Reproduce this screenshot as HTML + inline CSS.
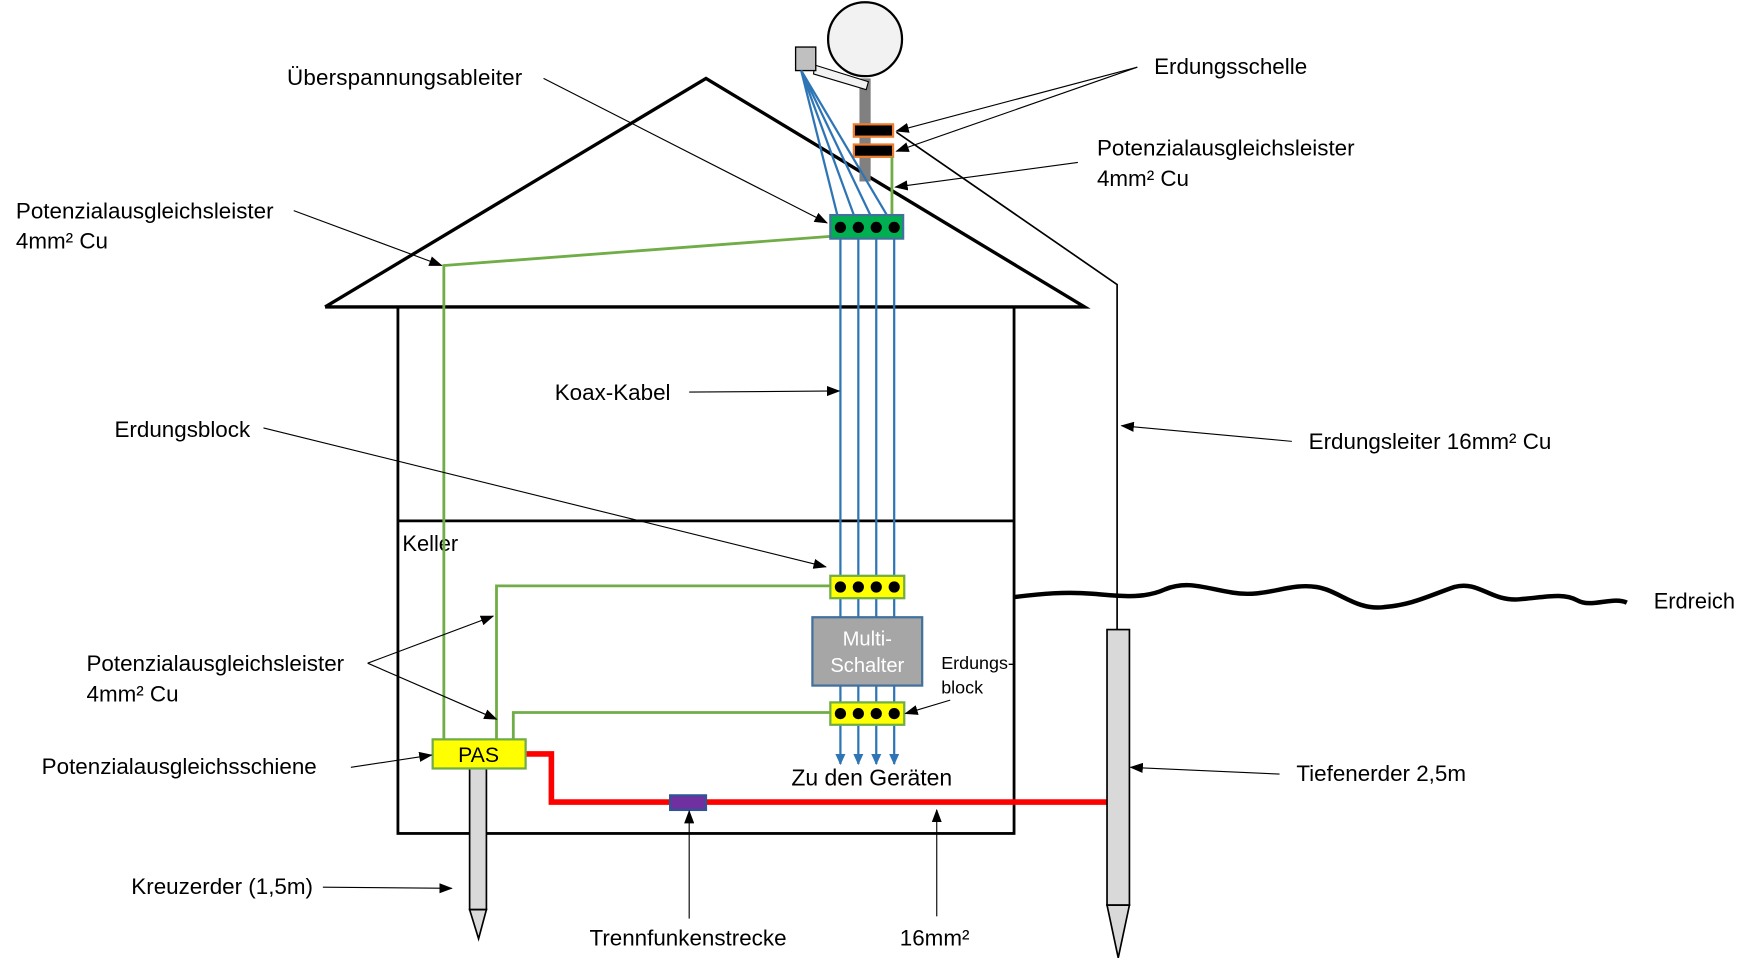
<!DOCTYPE html>
<html><head><meta charset="utf-8"><style>
html,body{margin:0;padding:0;background:#fff;}
svg{display:block;}
text{font-family:"Liberation Sans",sans-serif;fill:#000;}
</style></head><body>
<svg width="1757" height="969" viewBox="0 0 1568 865" xmlns="http://www.w3.org/2000/svg">
<defs>
<marker id="a" markerWidth="12" markerHeight="9" refX="11" refY="4.5" orient="auto" markerUnits="userSpaceOnUse"><path d="M0,0 L12,4.5 L0,9 Z" fill="#000"/></marker>
<marker id="b" markerWidth="10" markerHeight="9" refX="9" refY="4.5" orient="auto" markerUnits="userSpaceOnUse"><path d="M0,0 L10,4.5 L0,9 Z" fill="#2e75b6"/></marker>
</defs>
<polyline points="290,274 630,70 968,274 290,274" fill="none" stroke="#000" stroke-width="3"/>
<rect x="355" y="274" width="550" height="470" fill="none" stroke="#000" stroke-width="2.5"/>
<line x1="355" y1="465" x2="905" y2="465" stroke="#000" stroke-width="2.5"/>
<text x="359" y="492" font-size="19.5">Keller</text>
<rect x="767" y="70" width="10" height="92" fill="#808080"/>
<circle cx="772" cy="35" r="33" fill="#f2f2f2" stroke="#000" stroke-width="2"/>
<polygon points="727,58 775,73 773,80 726,66" fill="#f2f2f2" stroke="#000" stroke-width="1"/>
<rect x="710" y="42" width="18" height="21" fill="#c0c0c0" stroke="#000" stroke-width="1.2"/>
<rect x="762" y="111" width="35" height="11" fill="#000" stroke="#ed7d31" stroke-width="2"/>
<rect x="762" y="129" width="35" height="11" fill="#000" stroke="#ed7d31" stroke-width="2"/>
<g stroke="#2e75b6" stroke-width="2" fill="none">
<line x1="715" y1="63" x2="750" y2="203"/>
<line x1="715" y1="63" x2="766" y2="203"/>
<line x1="715" y1="63" x2="782" y2="203"/>
<line x1="715" y1="63" x2="798" y2="203"/>
<line x1="750" y1="203" x2="750" y2="682" marker-end="url(#b)"/>
<line x1="766" y1="203" x2="766" y2="682" marker-end="url(#b)"/>
<line x1="782" y1="203" x2="782" y2="682" marker-end="url(#b)"/>
<line x1="798" y1="203" x2="798" y2="682" marker-end="url(#b)"/>
</g>
<g stroke="#70ad47" stroke-width="2.5" fill="none">
<line x1="796" y1="140" x2="796" y2="192"/>
<polyline points="741,211 396,237 396,660"/>
<polyline points="741,523 443,523 443,660"/>
<polyline points="741,636 458,636 458,660"/>
</g>
<rect x="741" y="192" width="65" height="21" fill="#00b050" stroke="#41719c" stroke-width="2"/>
<rect x="741" y="514" width="66" height="20" fill="#ffff00" stroke="#70ad47" stroke-width="2"/>
<rect x="741" y="627" width="66" height="20" fill="#ffff00" stroke="#70ad47" stroke-width="2"/>
<g fill="#000">
<circle cx="750" cy="203" r="5"/><circle cx="766" cy="203" r="5"/><circle cx="782" cy="203" r="5"/><circle cx="798" cy="203" r="5"/>
<circle cx="750" cy="524" r="5"/><circle cx="766" cy="524" r="5"/><circle cx="782" cy="524" r="5"/><circle cx="798" cy="524" r="5"/>
<circle cx="750" cy="637" r="5"/><circle cx="766" cy="637" r="5"/><circle cx="782" cy="637" r="5"/><circle cx="798" cy="637" r="5"/>
</g>
<rect x="725" y="551" width="98" height="61" fill="#a6a6a6" stroke="#41719c" stroke-width="2"/>
<text x="774" y="576" font-size="18" text-anchor="middle" style="fill:#fff">Multi-</text>
<text x="774" y="600" font-size="18" text-anchor="middle" style="fill:#fff">Schalter</text>
<text x="778" y="701" font-size="20.5" text-anchor="middle">Zu den Geräten</text>
<polyline points="469,673 492,673 492,716 988,716" fill="none" stroke="#ff0000" stroke-width="5"/>
<rect x="598" y="710" width="32" height="13" fill="#7030a0" stroke="#2f5597" stroke-width="2"/>
<rect x="419" y="686" width="15" height="126" fill="#d9d9d9" stroke="#000" stroke-width="1.5"/>
<polygon points="419,812 434,812 427,838" fill="#d9d9d9" stroke="#000" stroke-width="1.5"/>
<rect x="386" y="660" width="83" height="26" fill="#ffff00" stroke="#70ad47" stroke-width="2"/>
<text x="427" y="680" font-size="19" text-anchor="middle">PAS</text>
<polyline points="800,118 997,254 997,562" fill="none" stroke="#000" stroke-width="1.5"/>
<path d="M905,533 C930,530 950,528 975,530 C1000,532 1020,535 1040,526 C1060,518 1075,525 1100,529 C1130,534 1150,520 1175,524 C1195,527 1210,545 1235,542 C1260,540 1275,532 1298,524 C1320,518 1330,537 1356,535 C1380,533 1395,529 1408,536 C1420,543 1440,532 1452,538" fill="none" stroke="#000" stroke-width="4"/>
<rect x="988" y="562" width="20" height="246" fill="#d9d9d9" stroke="#000" stroke-width="1.5"/>
<polygon points="988,808 1008,808 998,855" fill="#d9d9d9" stroke="#000" stroke-width="1.5"/>
<text x="1476" y="543" font-size="19.5">Erdreich</text>
<g stroke="#000" stroke-width="1" fill="none">
<line x1="485" y1="70" x2="738" y2="199" marker-end="url(#a)"/>
<line x1="1015" y1="60" x2="800" y2="117" marker-end="url(#a)"/>
<line x1="1015" y1="60" x2="800" y2="135" marker-end="url(#a)"/>
<line x1="962" y1="145" x2="799" y2="167" marker-end="url(#a)"/>
<line x1="262" y1="188" x2="394" y2="237" marker-end="url(#a)"/>
<line x1="615" y1="350" x2="749" y2="349" marker-end="url(#a)"/>
<line x1="1153" y1="394" x2="1001" y2="380" marker-end="url(#a)"/>
<line x1="235" y1="382" x2="737" y2="506" marker-end="url(#a)"/>
<line x1="328" y1="592" x2="440" y2="550" marker-end="url(#a)"/>
<line x1="328" y1="592" x2="443" y2="642" marker-end="url(#a)"/>
<line x1="848" y1="625" x2="808" y2="637" marker-end="url(#a)"/>
<line x1="313" y1="685" x2="385" y2="674" marker-end="url(#a)"/>
<line x1="1142" y1="691" x2="1009" y2="685" marker-end="url(#a)"/>
<line x1="288" y1="792" x2="403" y2="793" marker-end="url(#a)"/>
<line x1="615" y1="820" x2="615" y2="724" marker-end="url(#a)"/>
<line x1="836" y1="818" x2="836" y2="723" marker-end="url(#a)"/>
</g>
<g font-size="20" textLength="0">
<text x="256" y="76" textLength="210">Überspannungsableiter</text>
<text x="1030" y="66">Erdungsschelle</text>
<text x="979" y="139">Potenzialausgleichsleister</text>
<text x="979" y="166">4mm² Cu</text>
<text x="14" y="195">Potenzialausgleichsleister</text>
<text x="14" y="222">4mm² Cu</text>
<text x="495" y="357">Koax-Kabel</text>
<text x="1168" y="401">Erdungsleiter 16mm² Cu</text>
<text x="102" y="390">Erdungsblock</text>
<text x="77" y="599">Potenzialausgleichsleister</text>
<text x="77" y="626">4mm² Cu</text>
<text x="37" y="691">Potenzialausgleichsschiene</text>
<text x="1157" y="697">Tiefenerder 2,5m</text>
<text x="117" y="798">Kreuzerder (1,5m)</text>
<text x="526" y="844">Trennfunkenstrecke</text>
<text x="803" y="844">16mm²</text>
</g>
<text x="840" y="597" font-size="16">Erdungs-</text>
<text x="840" y="619" font-size="16">block</text>
</svg>
</body></html>
